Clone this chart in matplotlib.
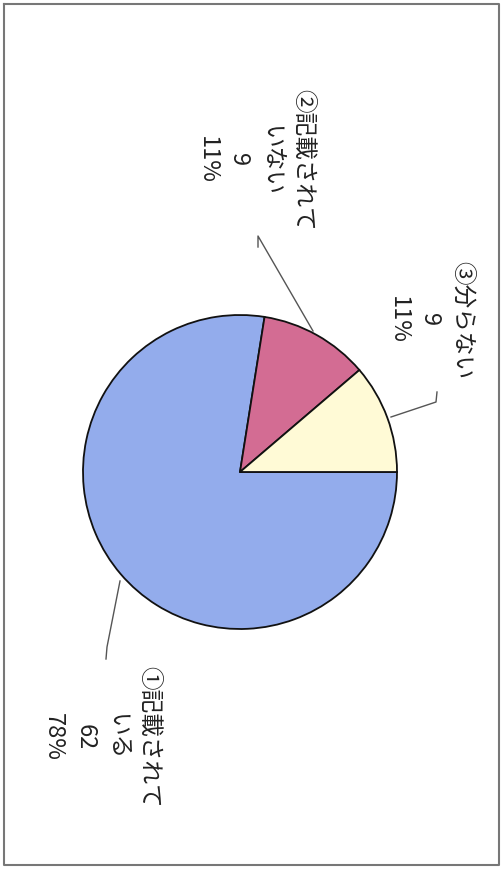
import matplotlib
matplotlib.use("Agg")
import matplotlib.pyplot as plt

plt.rcParams['font.family'] = ['Noto Sans CJK JP', 'DejaVu Sans']

# survey answers: count per answer
labels = ["①記載されて\nいる", "②記載されて\nいない", "③分らない"]
counts = [62, 9, 9]
colors = ["#93acec", "#d36c93", "#fffad6"]

W, H = 502, 870
fig = plt.figure(figsize=(W / 100, H / 100), dpi=100)
ax = fig.add_axes([0, 0, 1, 1])

# page is printed sideways, so the pie starts at 3 o'clock
cx, cy, r = 240, H - 473, 157
ax.pie(counts, colors=colors, startangle=0, counterclock=False,
       center=(cx, cy), radius=r,
       wedgeprops=dict(edgecolor="#111111", linewidth=1.3))

total = sum(counts)
label_pos = [(101, H - 737), (255, H - 160), (430, H - 320)]
for lab, n, (tx, ty) in zip(labels, counts, label_pos):
    pct = round(n / total * 100)
    ax.text(tx, ty, f"{lab}\n{n}\n{pct}%", rotation=-90, ha="center", va="center",
            multialignment="center", fontsize=17, color="#222222", linespacing=1.5)

# leader lines
leaders = [
    [(120, 582), (107, 648), (106, 660)],
    [(313, 332), (258, 237), (258, 248)],
    [(391, 418), (436, 403), (437, 393)],
]
for pts in leaders:
    xs = [p[0] for p in pts]
    ys = [H - p[1] for p in pts]
    ax.plot(xs, ys, color="#555555", linewidth=1.0)

# page frame
ax.plot([4, 499, 499, 4, 4], [H - 5, H - 5, H - 866, H - 866, H - 5],
        color="#777777", linewidth=1.5)

ax.set_xlim(0, W)
ax.set_ylim(0, H)
ax.set_aspect("auto")
ax.axis("off")

fig.savefig("out.png", dpi=100, facecolor="white")
